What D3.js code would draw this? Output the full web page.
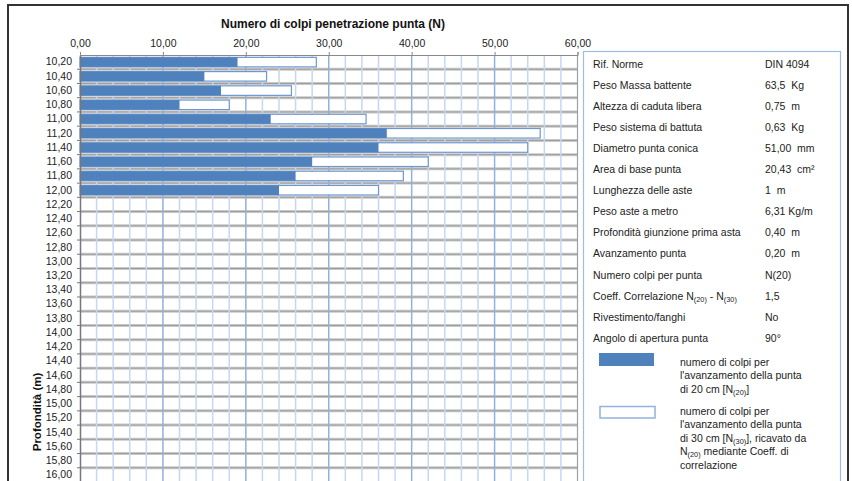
<!DOCTYPE html>
<html>
  <head>
  <title>Prova penetrometrica</title>
  <style>
    body, html { margin: 0; padding: 0; background: #fff; }
    svg { display: block; font-family: "Liberation Sans", Arial, sans-serif; }
  </style>
  </head>
  <body>

  <svg id="svg" width="852" height="481"></svg>

  <script src="https://d3js.org/d3.v7.min.js"></script>
  <script>
    // depths (m), one category per 20 cm
    const depths = ['10,20','10,40','10,60','10,80','11,00','11,20','11,40','11,60','11,80','12,00',
                    '12,20','12,40','12,60','12,80','13,00','13,20','13,40','13,60','13,80','14,00',
                    '14,20','14,40','14,60','14,80','15,00','15,20','15,40','15,60','15,80','16,00']
    // blows N(20), measured
    const n20 = [19, 15, 17, 12, 23, 37, 36, 28, 26, 24]
    // blows N(30), from N(20) with correlation coeff.
    const n30 = [28.5, 22.5, 25.5, 18, 34.5, 55.5, 54, 42, 39, 36]
    const xTicks = [0, 10, 20, 30, 40, 50, 60]

    const infoLabels = ['Rif. Norme', 'Peso Massa battente', 'Altezza di caduta libera', 'Peso sistema di battuta',
      'Diametro punta conica', 'Area di base punta', 'Lunghezza delle aste', 'Peso aste a metro',
      'Profondità giunzione prima asta', 'Avanzamento punta', 'Numero colpi per punta',
      'Coeff. Correlazione N_{(20)} - N_{(30)}', 'Rivestimento/fanghi', 'Angolo di apertura punta']
    const infoValues = ['DIN 4094', '63,5  Kg', '0,75  m', '0,63  Kg', '51,00  mm', '20,43  cm²', '1  m',
      '6,31 Kg/m', '0,40  m', '0,20  m', 'N(20)', '1,5', 'No', '90°']
    const legend20 = ['numero di colpi per', "l'avanzamento della punta", 'di 20 cm [N_{(20)}]']
    const legend30 = ['numero di colpi per', "l'avanzamento della punta", 'di 30 cm [N_{(30)}], ricavato da',
      'N_{(20)} mediante Coeff. di', 'correlazione']

    const blue = '#4f81bd'
    const svg = d3.select('#svg')

    // text with N_{(xx)} subscripts
    function richText(sel, str) {
      const parts = str.split(/_\{([^}]*)\}/)
      parts.forEach((p, i) => {
        if (p === '') return
        const t = sel.append('tspan').text(p)
        if (i % 2 === 1) t.attr('font-size', '0.7em').attr('baseline-shift', '-25%')
      })
    }

    const pLeft = 80, pRight = 577.5, pTop = 55, pBottom = 482
    const x = d3.scaleLinear().domain([0, 60]).range([pLeft, pRight])
    const y = d3.scaleBand().domain(depths).range([pTop, pBottom])
      .paddingInner(0.33).paddingOuter(0.165)
    const step = y.step()

    // horizontal grid at category boundaries
    const g = svg.append('g')
    const bounds = depths.slice(0, -1).map(d => y(d) - step * 0.165 + step)
    g.selectAll('.hg').data(bounds).join('line')
      .attr('x1', pLeft).attr('x2', pRight)
      .attr('y1', d => d).attr('y2', d => d)
      .attr('stroke', '#c8c8c8').attr('stroke-width', 3)
    g.selectAll('.hg2').data(bounds).join('line')
      .attr('x1', pLeft).attr('x2', pRight)
      .attr('y1', d => d).attr('y2', d => d)
      .attr('stroke', '#9c9c9c').attr('stroke-width', 1)

    // vertical grid, minor every 2 and major every 10
    const minor = d3.range(2, 60, 2).filter(v => v % 10 !== 0)
    g.selectAll('.vm').data(minor).join('line')
      .attr('x1', d => x(d)).attr('x2', d => x(d))
      .attr('y1', pTop).attr('y2', pBottom)
      .attr('stroke', '#c6d7ef').attr('stroke-width', 1.5)
    g.selectAll('.vM').data(xTicks.slice(1, -1)).join('line')
      .attr('x1', d => x(d)).attr('x2', d => x(d))
      .attr('y1', pTop).attr('y2', pBottom)
      .attr('stroke', '#8fb2e0').attr('stroke-width', 1.5)

    // bars
    const bh = y.bandwidth()
    svg.append('g').selectAll('rect').data(n30).join('rect')
      .attr('x', x(0)).attr('y', (d, i) => y(depths[i]))
      .attr('width', d => x(d) - x(0)).attr('height', bh)
      .attr('fill', '#fff').attr('stroke', '#6d97d0').attr('stroke-width', 1.2)
    svg.append('g').selectAll('rect').data(n20).join('rect')
      .attr('x', x(0)).attr('y', (d, i) => y(depths[i]))
      .attr('width', d => x(d) - x(0)).attr('height', bh)
      .attr('fill', blue)

    // plot frame
    svg.append('line').attr('x1', pRight).attr('x2', pRight).attr('y1', pTop).attr('y2', pBottom)
      .attr('stroke', '#a0a0a0').attr('stroke-width', 1.2)

    // axes
    const xAxis = svg.append('g').attr('transform', `translate(0,${pTop})`)
      .call(d3.axisTop(x).tickValues(xTicks).tickSize(3).tickPadding(5)
        .tickFormat(d => d.toFixed(2).replace('.', ',')))
    xAxis.attr('font-family', null).attr('font-size', null)
    xAxis.selectAll('text').attr('font-size', 10.5).attr('fill', '#222')
    xAxis.selectAll('path, line').attr('stroke', '#888')

    const yAxis = svg.append('g').attr('transform', `translate(${pLeft},0)`)
      .call(d3.axisLeft(y).tickSize(0).tickPadding(8))
    yAxis.attr('font-family', null).attr('font-size', null)
    yAxis.selectAll('text').attr('font-size', 10.5).attr('fill', '#222')
    yAxis.select('.domain').attr('stroke', '#777').attr('stroke-width', 1.5)
    svg.append('g').selectAll('line').data(bounds).join('line')
      .attr('x1', pLeft - 3).attr('x2', pLeft).attr('y1', d => d).attr('y2', d => d)
      .attr('stroke', '#777')

    // titles
    svg.append('text').attr('x', 333).attr('y', 28).attr('text-anchor', 'middle')
      .attr('font-size', 12).attr('font-weight', 'bold').attr('fill', '#111')
      .text('Numero di colpi penetrazione punta (N)')
    svg.append('text').attr('transform', 'translate(41,412) rotate(-90)')
      .attr('text-anchor', 'middle').attr('font-size', 11.5).attr('font-weight', 'bold').attr('fill', '#111')
      .text('Profondità (m)')

    // info panel
    svg.append('rect').attr('x', 583.5).attr('y', 51.5).attr('width', 257).attr('height', 460)
      .attr('fill', 'none').attr('stroke', '#9bbde6').attr('stroke-width', 1.2)
    const rowY = i => 68 + i * 21.05
    infoLabels.forEach((t, i) => {
      richText(svg.append('text').attr('x', 593).attr('y', rowY(i)).attr('font-size', 10.5).attr('fill', '#222'), t)
    })
    infoValues.forEach((t, i) => {
      svg.append('text').attr('x', 765).attr('y', rowY(i)).attr('font-size', 10.5).attr('fill', '#222')
        .style('white-space', 'pre').text(t)
    })

    // legend
    svg.append('rect').attr('x', 599).attr('y', 353).attr('width', 55).attr('height', 13).attr('fill', blue)
    svg.append('rect').attr('x', 600).attr('y', 406.5).attr('width', 55).attr('height', 11.5)
      .attr('fill', '#fff').attr('stroke', '#8fb2e0').attr('stroke-width', 1.5)
    legend20.forEach((t, i) => {
      richText(svg.append('text').attr('x', 680).attr('y', 365.5 + i * 13.5).attr('font-size', 10.5).attr('fill', '#222'), t)
    })
    legend30.forEach((t, i) => {
      richText(svg.append('text').attr('x', 680).attr('y', 414.5 + i * 13.5).attr('font-size', 10.5).attr('fill', '#222'), t)
    })

    // outer frame
    svg.append('rect').attr('x', 8).attr('y', 5).attr('width', 840).attr('height', 500)
      .attr('fill', 'none').attr('stroke', '#333').attr('stroke-width', 2)
  </script>
  </body>
</html>
